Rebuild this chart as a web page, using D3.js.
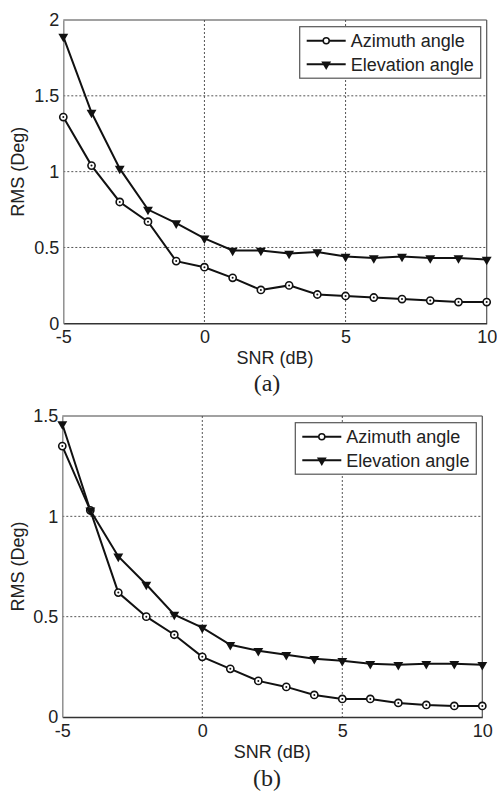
<!DOCTYPE html>
<html>
<head>
<meta charset="utf-8">
<script src="https://cdn.jsdelivr.net/npm/d3@7"></script>
<style>
  body { margin: 0; background: #fff; }
  text { font-family: Arial, "Liberation Sans", sans-serif; fill: #222; }
  .caption { font-family: "Times New Roman", "Liberation Serif", serif; }
</style>
</head>
<body>
<div id="chart"></div>
<script>
// SNR values (x axis)
var snr = [-5, -4, -3, -2, -1, 0, 1, 2, 3, 4, 5, 6, 7, 8, 9, 10];

// Panel (a)
var azimuthA = [1.36, 1.04, 0.80, 0.67, 0.41, 0.37, 0.30, 0.22, 0.25, 0.19, 0.18, 0.17, 0.16, 0.15, 0.14, 0.14];
var elevationA = [1.89, 1.39, 1.02, 0.75, 0.66, 0.56, 0.48, 0.48, 0.46, 0.47, 0.44, 0.43, 0.44, 0.43, 0.43, 0.42];

// Panel (b)
var azimuthB = [1.35, 1.03, 0.62, 0.50, 0.41, 0.30, 0.24, 0.18, 0.15, 0.11, 0.09, 0.09, 0.07, 0.06, 0.055, 0.055];
var elevationB = [1.46, 1.03, 0.80, 0.66, 0.51, 0.445, 0.36, 0.33, 0.31, 0.29, 0.28, 0.265, 0.26, 0.265, 0.265, 0.26];

// Tick labels
var xTicks = [-5, 0, 5, 10];
var yTicksA = [0, 0.5, 1, 1.5, 2];
var yTicksB = [0, 0.5, 1, 1.5];

var seriesNames = ['Azimuth angle', 'Elevation angle'];

var w = 497;
var h = 791;

var svg = d3.select('#chart')
  .append('svg')
  .attr('width', w)
  .attr('height', h);

drawPanel(svg, {
  left: 63.3, right: 486.7, top: 20, bottom: 323.3,
  yMax: 2, yTicks: yTicksA,
  az: azimuthA, el: elevationA,
  caption: '(a)', captionY: 391
});

drawPanel(svg, {
  left: 62.3, right: 482.3, top: 416, bottom: 717,
  yMax: 1.5, yTicks: yTicksB,
  az: azimuthB, el: elevationB,
  caption: '(b)', captionY: 786
});

function drawPanel(svg, cfg) {
  var x = d3.scaleLinear().domain([-5, 10]).range([cfg.left, cfg.right]);
  var y = d3.scaleLinear().domain([0, cfg.yMax]).range([cfg.bottom, cfg.top]);

  var g = svg.append('g');

  // Grid (dotted)
  g.selectAll('.vgrid')
    .data(xTicks.slice(1, -1))
    .enter()
    .append('line')
    .attr('x1', d => x(d)).attr('x2', d => x(d))
    .attr('y1', cfg.top).attr('y2', cfg.bottom)
    .attr('stroke', '#555').attr('stroke-width', 1)
    .attr('stroke-dasharray', '2,2');

  g.selectAll('.hgrid')
    .data(cfg.yTicks.slice(1).filter(d => d < cfg.yMax))
    .enter()
    .append('line')
    .attr('x1', cfg.left).attr('x2', cfg.right)
    .attr('y1', d => y(d)).attr('y2', d => y(d))
    .attr('stroke', '#555').attr('stroke-width', 1)
    .attr('stroke-dasharray', '2,2');

  // Box top / right
  g.append('line')
    .attr('x1', cfg.left).attr('x2', cfg.right)
    .attr('y1', cfg.top).attr('y2', cfg.top)
    .attr('stroke', '#444').attr('stroke-width', 1.2);
  g.append('line')
    .attr('x1', cfg.right).attr('x2', cfg.right)
    .attr('y1', cfg.top).attr('y2', cfg.bottom)
    .attr('stroke', '#555').attr('stroke-width', 1.2);

  // Axes
  var xAxis = d3.axisBottom(x).tickValues(xTicks).tickSize(0).tickPadding(7)
    .tickFormat(d => String(d));
  var gx = g.append('g')
    .attr('transform', `translate(0, ${cfg.bottom})`)
    .call(xAxis);
  gx.select('.domain').attr('stroke', '#333').attr('stroke-width', 1.4);
  gx.selectAll('text').style('font-size', '18px').attr('fill', '#222');

  var yAxis = d3.axisLeft(y).tickValues(cfg.yTicks).tickSize(0).tickPadding(4)
    .tickFormat(d => String(d));
  var gy = g.append('g')
    .attr('transform', `translate(${cfg.left}, 0)`)
    .call(yAxis);
  gy.select('.domain').attr('stroke', '#888').attr('stroke-width', 1.4);
  gy.selectAll('text').style('font-size', '18px').attr('fill', '#222');

  // Axis labels
  g.append('text')
    .attr('x', (cfg.left + cfg.right) / 2)
    .attr('y', cfg.bottom + 41)
    .attr('text-anchor', 'middle')
    .style('font-size', '18px')
    .text('SNR (dB)');

  g.append('text')
    .attr('transform', `translate(24, ${(cfg.top + cfg.bottom) / 2}) rotate(-90)`)
    .attr('text-anchor', 'middle')
    .style('font-size', '18px')
    .text('RMS (Deg)');

  // Caption
  g.append('text')
    .attr('class', 'caption')
    .attr('x', 267)
    .attr('y', cfg.captionY)
    .attr('text-anchor', 'middle')
    .style('font-size', '24px')
    .text(cfg.caption);

  var line = d3.line()
    .x((d, i) => x(snr[i]))
    .y(d => y(d));

  // Lines
  [cfg.az, cfg.el].forEach(function (vals) {
    g.append('path')
      .datum(vals)
      .attr('d', line)
      .attr('fill', 'none')
      .attr('stroke', '#111')
      .attr('stroke-width', 2);
  });

  // Circle markers (azimuth)
  var circ = g.selectAll('.az')
    .data(cfg.az)
    .enter()
    .append('g')
    .attr('transform', (d, i) => `translate(${x(snr[i])}, ${y(d)})`);
  circ.append('circle').attr('r', 3.6)
    .attr('fill', '#fff').attr('stroke', '#111').attr('stroke-width', 1.6);
  circ.append('circle').attr('r', 1).attr('fill', '#111');

  // Triangle markers (elevation)
  var tri = d3.symbol().type(d3.symbolTriangle).size(42);
  g.selectAll('.el')
    .data(cfg.el)
    .enter()
    .append('path')
    .attr('d', tri)
    .attr('transform', (d, i) => `translate(${x(snr[i])}, ${y(d)}) rotate(180)`)
    .attr('fill', '#111');

  // Legend
  var lw = 181;
  var lh = 51.5;
  var lx = cfg.right - 6 - lw;
  var ly = cfg.top + 6.7;
  var lg = g.append('g').attr('transform', `translate(${lx}, ${ly})`);
  lg.append('rect')
    .attr('width', lw).attr('height', lh)
    .attr('fill', '#fff').attr('stroke', '#555').attr('stroke-width', 1.2);

  seriesNames.forEach(function (name, i) {
    var cy = 14 + i * 23.6;
    lg.append('line')
      .attr('x1', 7).attr('x2', 46)
      .attr('y1', cy).attr('y2', cy)
      .attr('stroke', '#111').attr('stroke-width', 2);
    if (i === 0) {
      lg.append('circle').attr('cx', 26.5).attr('cy', cy).attr('r', 3)
        .attr('fill', '#fff').attr('stroke', '#111').attr('stroke-width', 1.5);
    } else {
      lg.append('path').attr('d', tri)
        .attr('transform', `translate(26.5, ${cy}) rotate(180)`)
        .attr('fill', '#111');
    }
    lg.append('text')
      .attr('x', 51)
      .attr('y', cy)
      .attr('dy', '0.35em')
      .style('font-size', '18px')
      .text(name);
  });
}
</script>
</body>
</html>
